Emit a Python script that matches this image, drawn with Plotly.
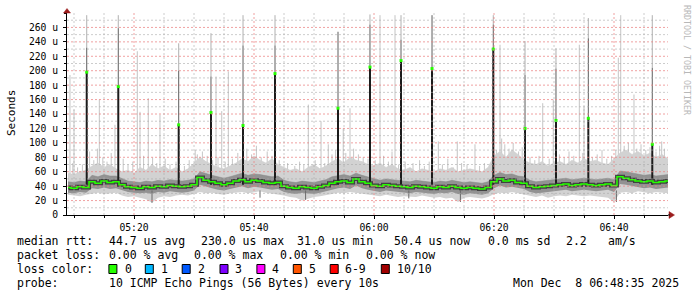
import plotly.graph_objects as go
import pandas as pd

BASE = pd.Timestamp("2025-12-08 05:00:00")

# ---- data (minutes after 05:00) ----
minutes = list(range(9, 110))
median = [38,37,39,38,46,44,47,45,46,42, 39,38,37,39,38,40,39,41,40,39,
          40,42,52,48,46,44,42,44,47,49, 46,48,47,45,44,45,40,38,37,39,
          38,37,39,41,44,46,47,45,50,46, 44,41,40,42,41,40,39,38,40,39,
          38,37,39,38,40,38,37,38,37,36, 38,46,50,47,48,45,44,40,38,39,
          40,41,42,43,41,42,43,42,41,42, 43,41,53,51,49,47,46,47,45,46, 47]
light_hi = [58,56,60,62, 68,72,66,70,64, 60,62,58, 66,62,70,64,68,62,66,
            60,64,72, 80,74,70, 66,64,68,72, 78,74,82,76,72,78,70,
            66,62,64,60, 66,70,64,68, 74,78,72,80,76,74,70, 68,72,66,70,64,62,
            66,60,64,62,60,64,62,66,60,62, 64,62,60,66, 82,88,80,90,84,
            76,72,70,74,68,72, 74,70,76,72,78, 74,76,72,70,78,
            86,90,84,88,82,86,80,84,78]
light_lo = [28,27,26,28, 30,31,29,30,31, 27,25,26, 24,22,17,24,26,25,27,
            28,27,29, 32,30,31, 29,28,30,31, 32,30,31,33,31,30,29,
            27,25,24,20, 23,25,26,27, 29,31,30,32,31,30,28, 27,26,28,27,25,26,
            26,25,27,26,24,25,23,24,18,24, 25,24,23,25, 29,31,30,32,30,
            28,26,25,27,24,26, 27,26,28,27,26, 27,26,25,24,18,
            31,32,30,33,31,30,32,31,30]
mid_hi = [46,45,47,46, 55,53,56,54,54, 50,47,46, 45,47,46,48,47,49,48,
          47,48,50, 60,57,55, 53,51,53,56, 58,55,57,56,54,53,54,
          48,46,45,47, 46,45,47,49, 53,55,56,54,58,55,53, 50,48,50,49,48,47,
          46,48,47,46,45,47,46,48,46,45, 46,45,44,46, 55,59,56,57,54,
          53,48,46,47,48,49, 50,51,49,50,51, 50,49,50,51,49,
          61,60,58,56,55,56,54,55,56]
mid_lo = [31,30,32,31, 37,36,38,36,37, 34,32,31, 30,31,29,32,31,33,32,
          31,32,34, 42,39,37, 35,34,36,38, 40,37,39,38,36,35,36,
          32,30,29,31, 30,29,31,33, 36,37,38,36,41,37,35, 33,32,34,33,32,31,
          30,32,31,30,29,31,30,32,29,28, 30,29,28,30, 37,41,38,39,37,
          36,32,30,31,32,33, 34,35,33,34,35, 34,33,34,35,32,
          43,42,40,38,37,38,36,37,38]

spike_t    = [12.12, 17.38, 27.45, 32.83, 38.17, 43.5, 54.0, 59.33, 64.5, 69.67, 79.88, 85.17, 90.33, 95.72, 106.38]
spike_med  = [198, 178, 125, 142, 124, 196, 148, 205, 214, 203, 230, 120, 131, 134, 98]
spike_dark = [232, 259, 200, 192, 235, 235, 254, 264, 243, 277, 264, 194, 203, 245, 204]
spike_max  = [277, 277, 238, 252, 277, 277, 254, 278, 277, 277, 277, 241, 231, 273, 277]

# tall isolated smoke lines
thin_t   = [9.33, 10.0, 14.22, 16.83, 20.55, 21.0, 22.38, 24.33, 30.55, 33.67, 34.62, 35.72, 49.05, 51.17,
            52.38, 54.87, 56.0, 61.0, 63.5, 70.72, 73.88, 76.83, 81.0, 81.28, 88.12, 89.88, 94.22, 95.0,
            100.72, 101.12, 103.33, 107.95]
thin_max = [194,146,160,125,227,143,162,139,84,192,144,199,153,130,98,120,148,277,277,102,
            102,98,236,106,155,160,236,150,218,277,167,102]

# shorter smoke flickers above the band
flick_t = [9.8,10.6,11.4, 12.6,13.3,13.9,14.8,15.5,16.2, 18.2,19.0,19.8,21.6,
           23.1,23.8,25.2,26.0,27.0,28.4,29.2, 30.2,31.4,32.2,33.1,34.0,35.2,36.4,
           37.3,38.8,39.6,40.4,41.2,42.2,43.0,44.2, 45.6,46.8,47.6,48.3,50.2,51.8,
           53.0,53.6,55.3,56.6,57.4,58.2,59.0, 60.2,61.6,62.4,63.0,64.1,65.2,
           66.5,67.6,68.4,69.2,71.4,72.3,73.2,74.6,75.5,77.6,78.4,79.3,
           80.4,81.8,82.5,83.2,84.1,84.7,
           86.0,86.8,87.5,89.2,90.9,91.7,92.5,93.3,94.8,96.4,97.2,98.0,98.8,99.6,
           100.3,101.7,102.4,103.8,104.5,105.3,106.0,107.0,107.6,108.4]
flick_top = [72,66,70, 88,76,92,80,74,86, 78,70,74,82,
             80,72,78,70,74,68,76, 90,88,82,76,80,74,78,
             86,92,84,96,80,88,82,76, 72,68,74,70,76,72,
             84,90,86,92,84,80,78, 76,82,74,88,70,74,
             72,76,68,74,70,78,66,72,70,68,72,70,
             90,98,92,100,88,94,
             80,76,82,78,84,80,88,82,86,80,84,90,78,82,
             90,96,100,92,98,90,94,88,96,92]

# downward dips below the band
dip_t  = [23.0, 48.6, 74.4, 100.4, 41.0, 65.8]
dip_lo = [17, 21, 18, 18, 24, 23]

y_tickvals = [0,20,40,60,80,100,120,140,160,180,200,220,240,260]
y_ticktext = ["0","20 u","40 u","60 u","80 u","100 u","120 u","140 u","160 u","180 u",
              "200 u","220 u","240 u","260 u"]
y_minor = [10,30,50,70,90,110,130,150,170,190,210,230,250,270]
x_major = [20, 40, 60, 80, 100]
x_minor = [10, 15, 25, 30, 35, 45, 50, 55, 65, 70, 75, 85, 90, 95, 105]

loss_labels = ["0","1","2","3","4","5","6-9","10/10"]
loss_colors = ["#26ff00","#00b8ff","#0059ff","#7e00ff","#ff00ff","#ff5500","#ff0000","#a10000"]

# ---- helpers ----
def T(m):
    return BASE + pd.Timedelta(minutes=m)

X = [T(m) for m in minutes]

def segs(ts, lo, hi):
    xs, ys = [], []
    for t, a, b in zip(ts, lo, hi):
        xs += [T(t), T(t), None]
        ys += [a, b, None]
    return xs, ys

MONO = "DejaVu Sans Mono"
fig = go.Figure()

def vlines(ts, lo, hi, color, width):
    xs, ys = segs(ts, lo, hi)
    fig.add_trace(go.Scatter(x=xs, y=ys, mode="lines", line=dict(color=color, width=width), hoverinfo="skip"))

vlines(thin_t, [55]*len(thin_t), thin_max, "#c4c4c4", 1)
vlines(flick_t, [50]*len(flick_t), flick_top, "#c6c6c6", 1)

# light smoke band
fig.add_trace(go.Scatter(x=X, y=light_lo, mode="lines", line=dict(width=0, color="#d2d2d2"), hoverinfo="skip"))
fig.add_trace(go.Scatter(x=X, y=light_hi, mode="lines", line=dict(width=0.5, color="#cccccc"),
                         fill="tonexty", fillcolor="#d2d2d2", hoverinfo="skip"))
# mid smoke band
fig.add_trace(go.Scatter(x=X, y=mid_lo, mode="lines", line=dict(width=0, color="#929292"), hoverinfo="skip"))
fig.add_trace(go.Scatter(x=X, y=mid_hi, mode="lines", line=dict(width=0.5, color="#888888"),
                         fill="tonexty", fillcolor="#929292", hoverinfo="skip"))
vlines(dip_t, [34]*len(dip_t), dip_lo, "#6a6a6a", 1)

# spike parts
vlines(spike_t, spike_dark, spike_max, "#b0b0b0", 1)
vlines(spike_t, spike_med, spike_dark, "#5e5e5e", 1)
vlines(spike_t, [42]*len(spike_t), spike_med, "#1c1c1c", 2)

# dark core + green median
fig.add_trace(go.Scatter(x=X, y=median, mode="lines", line=dict(color="#333333", width=4, shape="hvh"),
                         opacity=0.85, hoverinfo="skip"))
fig.add_trace(go.Scatter(x=X, y=median, mode="lines", line=dict(color="#26ff00", width=1.5, shape="hvh"), hoverinfo="skip"))
fig.add_trace(go.Scatter(x=[T(t) for t in spike_t], y=spike_med, mode="markers",
                         marker=dict(symbol="square", size=3, color="#26ff00", line=dict(width=0)), hoverinfo="skip"))

# ---- layout ----
L, R, TOP, BOT = 67, 668, 13, 215
def P(px, py):
    return (px - L) / (R - L), (BOT - py) / (BOT - TOP)

shapes = []
# grid drawn above the smoke, as rrdtool does
MAJ, MIN = "rgba(235,130,130,0.75)", "rgba(170,170,170,0.6)"
for v in y_minor:
    shapes.append(dict(type="line", xref="paper", yref="y", x0=0, x1=1, y0=v, y1=v, layer="above",
                       line=dict(color=MIN, width=1, dash="2px,2px")))
for v in y_tickvals[1:]:
    shapes.append(dict(type="line", xref="paper", yref="y", x0=0, x1=1, y0=v, y1=v, layer="above",
                       line=dict(color=MAJ, width=1, dash="2px,2px")))
for m in x_minor:
    shapes.append(dict(type="line", xref="x", yref="paper", x0=T(m), x1=T(m), y0=0, y1=1, layer="above",
                       line=dict(color=MIN, width=1, dash="2px,2px")))
for m in x_major:
    shapes.append(dict(type="line", xref="x", yref="paper", x0=T(m), x1=T(m), y0=0, y1=1, layer="above",
                       line=dict(color=MAJ, width=1, dash="2px,2px")))

annotations = []
def txt(px, py, s, size=11.5, color="black", xanchor="left", angle=0):
    x, y = P(px, py)
    annotations.append(dict(x=x, y=y, xref="paper", yref="paper", text=s, showarrow=False,
                            xanchor=xanchor, yanchor="middle", textangle=angle, borderpad=0,
                            font=dict(family=MONO, size=size, color=color)))

row1 = [(16.4,"median rtt:"),(107.6,"44.7 us avg"),(200,"230.0 us max"),(296.4,"31.0 us min"),
        (393.3,"50.4 us now"),(486.7,"0.0 ms sd"),(565.3,"2.2"),(606.7,"am/s")]
row2 = [(16.4,"packet loss:"),(107.6,"0.00 % avg"),(193.3,"0.00 % max"),(279,"0.00 % min"),(365.3,"0.00 % now")]
for px, s in row1:
    txt(px, 241, s)
for px, s in row2:
    txt(px, 255, s)
txt(16.4, 269, "loss color:")
box_x = [108.9, 145.3, 182.2, 220, 256.9, 293.3, 330.2, 381.3]
lab_x = [123.6, 160, 196.9, 234, 271, 308, 344.4, 395.6]
for bx, lx, lab, col in zip(box_x, lab_x, loss_labels, loss_colors):
    x0, y0 = P(bx, 273.5)
    x1, y1 = P(bx + 8, 264.5)
    shapes.append(dict(type="rect", xref="paper", yref="paper", x0=x0, y0=y0, x1=x1, y1=y1,
                       fillcolor=col, line=dict(color="black", width=1)))
    txt(lx, 269, lab)
txt(16.4, 283, "probe:")
txt(107.6, 283, "10 ICMP Echo Pings (56 Bytes) every 10s")
txt(680, 283, "Mon Dec  8 06:48:35 2025", xanchor="right")

txt(11, 113, "Seconds", size=11, angle=-90, xanchor="center")
txt(687, 60, "RRDTOOL / TOBI OETIKER", size=8.3, color="#b8b8b8", angle=90, xanchor="center")

# arrows
def path(points):
    pts = [P(a, b) for a, b in points]
    return "M " + " L ".join(f"{x},{y}" for x, y in pts) + " Z"
ARROW = "#9b1c1c"
shapes.append(dict(type="path", xref="paper", yref="paper", path=path([(67, 8.5), (63.5, 13), (70.5, 13)]),
                   fillcolor=ARROW, line=dict(color=ARROW, width=0.5)))
shapes.append(dict(type="path", xref="paper", yref="paper", path=path([(674.5, 215), (669, 211.5), (669, 218.5)]),
                   fillcolor=ARROW, line=dict(color=ARROW, width=0.5)))
x0, y0 = P(668, 215); x1, y1 = P(670, 215)
shapes.append(dict(type="line", xref="paper", yref="paper", x0=x0, y0=y0, x1=x1, y1=y1,
                   line=dict(color="black", width=1)))

fig.update_layout(
    width=697, height=297,
    margin=dict(l=L, r=697 - R, t=TOP, b=297 - BOT),
    paper_bgcolor="white", plot_bgcolor="white",
    showlegend=False,
    annotations=annotations, shapes=shapes,
    xaxis=dict(type="date", range=[T(8.8333), T(109.0)],
               tickformat="%H:%M", dtick=1200000, tick0="2025-12-08 05:00:00",
               showgrid=False,
               showline=True, linecolor="black", linewidth=1, layer="above traces",
               ticks="outside", ticklen=3, tickcolor="black",
               tickfont=dict(family=MONO, size=9.7, color="black"),
               minor=dict(dtick=300000, showgrid=False, ticks="outside", ticklen=2, tickcolor="black"),
               zeroline=False, fixedrange=True),
    yaxis=dict(range=[0, 280], tickmode="array", tickvals=y_tickvals, ticktext=y_ticktext,
               showgrid=False,
               showline=True, linecolor="black", linewidth=1, layer="above traces",
               ticks="outside", ticklen=3, tickcolor="black", ticklabelstandoff=3,
               tickfont=dict(family=MONO, size=9.7, color="black"),
               minor=dict(dtick=10, showgrid=False, ticks="outside", ticklen=2, tickcolor="black"),
               zeroline=False, fixedrange=True),
)

fig.write_html("out.html")
